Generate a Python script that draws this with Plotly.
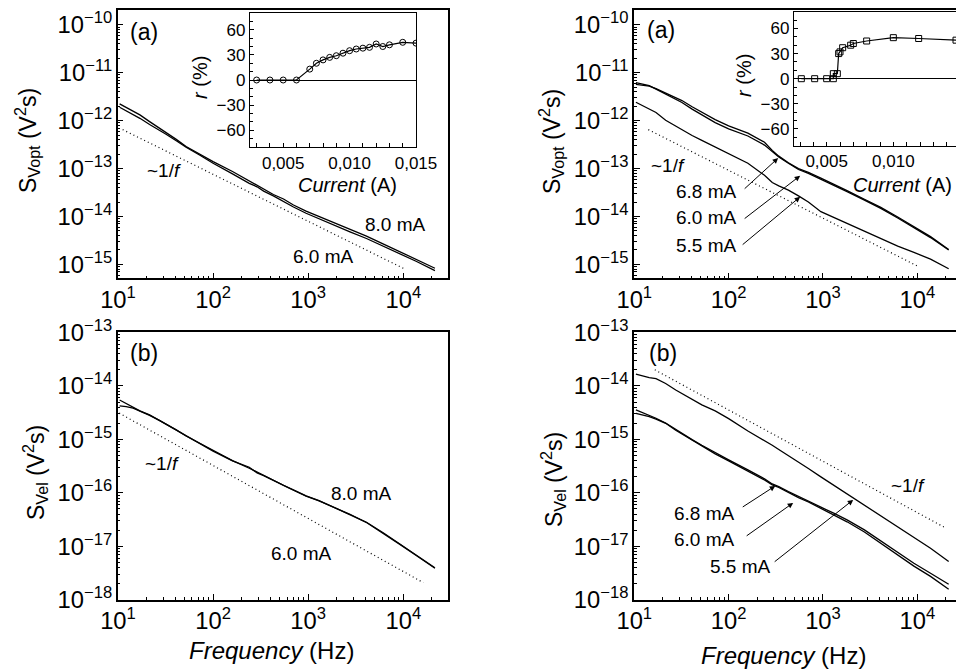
import math
import plotly.graph_objects as go

W, H = 956, 669

# ---------------- data ----------------
FREQ = [10.4, 12.2, 14.4, 17.0, 21.5, 27.5, 32.0, 41.0, 52.0, 72.0, 100, 160, 240, 290, 340,
        430, 550, 700, 950, 1300, 1800, 2750, 4100, 6200, 9200, 13800, 21500]

# panel (a), left: S_Vopt
TL_8_0 = [2.24e-12, 1.91e-12, 1.58e-12, 1.32e-12, 9.55e-13, 6.92e-13, 5.62e-13, 4.07e-13, 2.88e-13,
          2.00e-13, 1.40e-13, 8.71e-14, 5.62e-14, 4.57e-14, 3.72e-14, 2.88e-14, 2.32e-14, 1.74e-14,
          1.29e-14, 1.00e-14, 7.76e-15, 5.37e-15, 3.89e-15, 2.66e-15, 1.84e-15, 1.27e-15, 8.32e-16]
TL_6_0 = [1.91e-12, 1.62e-12, 1.36e-12, 1.12e-12, 8.32e-13, 6.31e-13, 5.20e-13, 3.80e-13, 2.78e-13,
          1.92e-13, 1.29e-13, 7.76e-14, 4.90e-14, 4.17e-14, 3.39e-14, 2.69e-14, 2.04e-14, 1.58e-14,
          1.17e-14, 8.91e-15, 6.92e-15, 4.79e-15, 3.47e-15, 2.40e-15, 1.66e-15, 1.15e-15, 7.41e-16]
TL_REF_F = [11.2, 10500]
TL_REF_S = [6.5e-13, 7.9e-16]

# panel (b), left: S_Vel
BL_8_0 = [5.47e-15, 4.74e-15, 3.99e-15, 3.41e-15, 2.87e-15, 2.25e-15, 1.95e-15, 1.51e-15, 1.16e-15,
          8.47e-16, 6.10e-16, 4.02e-16, 2.89e-16, 2.43e-16, 2.14e-16, 1.75e-16, 1.39e-16, 1.14e-16,
          8.79e-17, 7.19e-17, 5.56e-17, 3.99e-17, 2.82e-17, 1.78e-17, 1.10e-17, 6.76e-18, 3.98e-18]
BL_6_0 = [4.23e-15, 4.11e-15, 3.83e-15, 3.39e-15, 2.82e-15, 2.24e-15, 1.93e-15, 1.50e-15, 1.17e-15,
          8.41e-16, 6.03e-16, 3.98e-16, 3.02e-16, 2.37e-16, 2.11e-16, 1.74e-16, 1.38e-16, 1.12e-16,
          8.71e-17, 7.08e-17, 5.50e-17, 3.98e-17, 2.80e-17, 1.76e-17, 1.09e-17, 6.68e-18, 3.90e-18]
BL_REF_F = [10.3, 16200]
BL_REF_S = [3.1e-15, 2.1e-18]

# panel (a), right: S_Vopt
TR_6_8 = [5.75e-12, 5.50e-12, 5.25e-12, 4.68e-12, 3.80e-12, 3.02e-12, 2.63e-12, 1.95e-12, 1.48e-12,
          1.05e-12, 7.76e-13, 5.50e-13, 3.55e-13, 2.40e-13, 1.82e-13, 1.32e-13, 1.00e-13, 8.32e-14,
          6.31e-14, 4.79e-14, 3.47e-14, 2.29e-14, 1.55e-14, 9.77e-15, 6.17e-15, 3.80e-15, 2.04e-15]
TR_6_0 = [6.24e-12, 5.75e-12, 5.37e-12, 4.57e-12, 3.63e-12, 2.82e-12, 2.40e-12, 1.74e-12, 1.32e-12,
          9.12e-13, 6.76e-13, 4.79e-13, 3.09e-13, 2.24e-13, 1.74e-13, 1.29e-13, 9.55e-14, 7.94e-14,
          6.03e-14, 4.57e-14, 3.31e-14, 2.19e-14, 1.48e-14, 9.33e-15, 5.89e-15, 3.63e-15, 2.00e-15]
TR_5_5 = [2.42e-12, 2.09e-12, 1.78e-12, 1.48e-12, 1.02e-12, 7.59e-13, 6.46e-13, 4.90e-13, 3.89e-13,
          2.82e-13, 2.04e-13, 1.29e-13, 7.24e-14, 5.13e-14, 4.37e-14, 3.55e-14, 2.69e-14, 2.00e-14,
          1.26e-14, 9.55e-15, 6.92e-15, 4.79e-15, 3.47e-15, 2.40e-15, 1.78e-15, 1.29e-15, 8.13e-16]
TR_REF_F = [14.1, 10400]
TR_REF_S = [6.5e-13, 8.9e-16]

# panel (b), right: S_Vel
BR_6_8 = [3.56e-15, 3.18e-15, 2.83e-15, 2.49e-15, 2.03e-15, 1.53e-15, 1.30e-15, 9.93e-16, 7.78e-16,
          5.60e-16, 4.14e-16, 2.69e-16, 1.83e-16, 1.47e-16, 1.31e-16, 1.06e-16, 8.53e-17, 7.08e-17,
          5.40e-17, 4.17e-17, 3.13e-17, 2.03e-17, 1.27e-17, 7.78e-18, 4.84e-18, 3.15e-18, 1.96e-18]
BR_6_0 = [3.08e-15, 2.87e-15, 2.67e-15, 2.40e-15, 2.00e-15, 1.48e-15, 1.26e-15, 9.55e-16, 7.41e-16,
          5.37e-16, 3.98e-16, 2.57e-16, 1.74e-16, 1.41e-16, 1.26e-16, 1.02e-16, 8.13e-17, 6.76e-17,
          5.13e-17, 3.89e-17, 2.88e-17, 1.86e-17, 1.15e-17, 7.08e-18, 4.27e-18, 2.75e-18, 1.58e-18]
BR_5_5 = [1.67e-14, 1.54e-14, 1.43e-14, 1.37e-14, 1.11e-14, 8.41e-15, 7.19e-15, 5.47e-15, 4.42e-15,
          3.41e-15, 2.45e-15, 1.44e-15, 9.64e-16, 7.78e-16, 6.46e-16, 4.99e-16, 3.74e-16, 2.85e-16,
          1.99e-16, 1.39e-16, 9.57e-17, 5.87e-17, 3.72e-17, 2.31e-17, 1.46e-17, 9.25e-18, 5.21e-18]
BR_REF_F = [16.5, 19100]
BR_REF_S = [2.0e-14, 2.3e-17]

# insets: r (%) vs current (A)
INS_L_I = [0.003, 0.004, 0.005, 0.006, 0.007, 0.0075, 0.008, 0.0085, 0.009, 0.0095, 0.010, 0.0105,
           0.011, 0.0115, 0.012, 0.0125, 0.013, 0.014, 0.015]
INS_L_R = [0, 0, 0, 0, 13, 20, 24, 27, 29, 32, 35, 37, 38, 39, 43, 40, 42, 45, 44]
INS_R_I = [0.0031, 0.0041, 0.0050, 0.0055, 0.0055, 0.0058, 0.0059, 0.0060, 0.0062, 0.0068, 0.0070,
           0.0080, 0.0100, 0.0119, 0.0147]
INS_R_R = [0, 0, 0, 0, 6, 6, 30, 32, 37, 40, 42, 45, 49, 48, 46]
INS_TICKS = [0.005, 0.010, 0.015]
INS_TICKTEXT = ["0,005", "0,010", "0,015"]

FONT = "Arial, 'Liberation Sans', sans-serif"


def fx(px):
    return px / W


def fy(py):
    return 1 - py / H


fig = go.Figure()

line_main = dict(color="black", width=1.3)
line_ref = dict(color="black", width=1.2, dash="1px,3px")

panels = [
    ("x", "y", [TL_8_0, TL_6_0], TL_REF_F, TL_REF_S),
    ("x2", "y2", [BL_8_0, BL_6_0], BL_REF_F, BL_REF_S),
    ("x3", "y3", [TR_6_8, TR_6_0, TR_5_5], TR_REF_F, TR_REF_S),
    ("x4", "y4", [BR_6_8, BR_6_0, BR_5_5], BR_REF_F, BR_REF_S),
]
for xa, ya, series, rf, rs in panels:
    fig.add_trace(go.Scatter(x=rf, y=rs, xaxis=xa, yaxis=ya, mode="lines", line=line_ref,
                             showlegend=False, hoverinfo="skip"))
    for vals in series:
        fig.add_trace(go.Scatter(x=FREQ, y=vals, xaxis=xa, yaxis=ya, mode="lines", line=line_main,
                                 showlegend=False))

fig.add_trace(go.Scatter(x=INS_L_I, y=INS_L_R, xaxis="x5", yaxis="y5", mode="lines+markers",
                         line=dict(color="black", width=1.2),
                         marker=dict(symbol="circle-open", size=6, color="black", line=dict(width=1)),
                         showlegend=False))
fig.add_trace(go.Scatter(x=INS_R_I, y=INS_R_R, xaxis="x6", yaxis="y6", mode="lines+markers",
                         line=dict(color="black", width=1.2),
                         marker=dict(symbol="square-open", size=6, color="black", line=dict(width=1)),
                         showlegend=False))


def main_axis(domain, rng, anchor, mirror=True):
    return dict(
        type="log", domain=domain, range=rng, anchor=anchor, showline=True, linecolor="black",
        linewidth=1.5, mirror=mirror, ticks="inside", ticklen=6, tickwidth=1.2, tickcolor="black",
        showgrid=False, zeroline=False, dtick=1, exponentformat="power", automargin=False,
        labelalias={"10": "10<sup>1</sup>"},
        tickfont=dict(size=19, color="black", family=FONT),
        minor=dict(ticks="inside", ticklen=3, tickwidth=1, tickcolor="black", dtick="D1",
                   showgrid=False),
    )


def inset_axis(domain, rng, anchor, mirror=True, **kw):
    d = dict(
        domain=domain, range=rng, anchor=anchor, showline=True, linecolor="black", linewidth=1.3,
        mirror=mirror, ticks="inside", ticklen=4, tickwidth=1, tickcolor="black", showgrid=False,
        automargin=False, tickfont=dict(size=17, color="black", family=FONT),
    )
    d.update(kw)
    return d


XL = [fx(117.7), fx(448)]
XR = [fx(634), 1.0]
YT = [fy(278.3), fy(10)]
YB = [fy(600), fy(332.3)]

fig.update_layout(
    template="none",
    width=W, height=H, margin=dict(l=0, r=0, t=0, b=0, pad=0),
    paper_bgcolor="white", plot_bgcolor="white",
    font=dict(family=FONT, color="black"),
    xaxis=main_axis(XL, [0.997, 4.47], "y"),
    yaxis=main_axis(YT, [-15.29, -9.69], "x"),
    xaxis2=main_axis(XL, [0.997, 4.47], "y2"),
    yaxis2=main_axis(YB, [-18.003, -12.997], "x2"),
    xaxis3=main_axis(XR, [0.997, 4.41], "y3"),
    yaxis3=main_axis(YT, [-15.29, -9.69], "x3", mirror=False),
    xaxis4=main_axis(XR, [0.997, 4.41], "y4"),
    yaxis4=main_axis(YB, [-18.003, -12.997], "x4", mirror=False),
    xaxis5=inset_axis([fx(250), fx(416)], [0.0025, 0.015], "y5", tickvals=INS_TICKS,
                      ticktext=INS_TICKTEXT, zeroline=False,
                      minor=dict(ticks="inside", ticklen=4, dtick=0.001, tickcolor="black")),
    yaxis5=inset_axis([fy(147), fy(13)], [-80, 80], "x5", dtick=30, zeroline=True,
                      zerolinecolor="black", zerolinewidth=1.2,
                      minor=dict(ticks="inside", ticklen=3, dtick=10, tickcolor="black")),
    xaxis6=inset_axis([fx(794), 1.0], [0.00255, 0.0147], "y6", tickvals=INS_TICKS,
                      ticktext=INS_TICKTEXT, zeroline=False,
                      minor=dict(ticks="inside", ticklen=4, dtick=0.001, tickcolor="black")),
    yaxis6=inset_axis([fy(145.7), fy(11.7)], [-80, 80], "x6", mirror=False, dtick=30,
                      zeroline=True, zerolinecolor="black", zerolinewidth=1.2,
                      minor=dict(ticks="inside", ticklen=3, dtick=10, tickcolor="black")),
)


def txt(x, y, s, size=19, angle=0):
    fig.add_annotation(x=fx(x), y=fy(y), xref="paper", yref="paper", text=s, showarrow=False,
                       xanchor="center", yanchor="middle", textangle=angle,
                       font=dict(size=size, color="black", family=FONT))


# panel letters
txt(144, 32, "(a)", 23)
txt(144, 353, "(b)", 23)
txt(661, 30, "(a)", 23)
txt(663, 353, "(b)", 23)
# 1/f labels
txt(164, 170, "~1/<i>f</i>")
txt(162, 463, "~1/<i>f</i>")
txt(668, 165, "~1/<i>f</i>")
txt(908, 485, "~1/<i>f</i>")
# current labels
txt(395, 224, "8.0 mA")
txt(323, 256, "6.0 mA")
txt(361, 493, "8.0 mA")
txt(301, 553, "6.0 mA")
txt(706, 192, "6.8 mA")
txt(706, 218, "6.0 mA")
txt(706, 246, "5.5 mA")
txt(704, 513, "6.8 mA")
txt(704, 539, "6.0 mA")
txt(740, 566, "5.5 mA")
# axis titles
txt(27, 141, "S<sub>Vopt</sub> (V<sup>2</sup>s)", 23, -90)
txt(551, 142, "S<sub>Vopt</sub> (V<sup>2</sup>s)", 23, -90)
txt(35, 473, "S<sub>Vel</sub> (V<sup>2</sup>s)", 23, -90)
txt(553, 480, "S<sub>Vel</sub> (V<sup>2</sup>s)", 23, -90)
txt(271, 650, "<i>Frequency</i> (Hz)", 24)
txt(783, 655, "<i>Frequency</i> (Hz)", 24)
# inset titles
txt(347, 185, "<i>Current</i> (A)", 20)
txt(902, 185, "<i>Current</i> (A)", 20)
txt(200, 78, "<i>r</i> (%)", 20, -90)
txt(744, 76, "<i>r</i> (%)", 20, -90)


def arrow(xa, ya, f, s, ax, ay):
    fig.add_annotation(x=math.log10(f), y=math.log10(s), xref=xa, yref=ya, text="",
                       showarrow=True, arrowhead=2, arrowsize=1.1, arrowwidth=1,
                       arrowcolor="black", ax=ax, ay=ay, standoff=0)


# arrows pointing at curves (heads in data coordinates, tails as pixel offsets)
arrow("x3", "y3", 335, 1.66e-13, -35, 32)
arrow("x3", "y3", 573, 7.1e-14, -57, 44)
arrow("x3", "y3", 573, 2.57e-14, -59, 49)
arrow("x4", "y4", 312, 1.35e-16, -34, 22)
arrow("x4", "y4", 483, 6.5e-17, -48, 34)
arrow("x4", "y4", 2090, 7.4e-17, -80, 63)

fig.write_html("out.html")
